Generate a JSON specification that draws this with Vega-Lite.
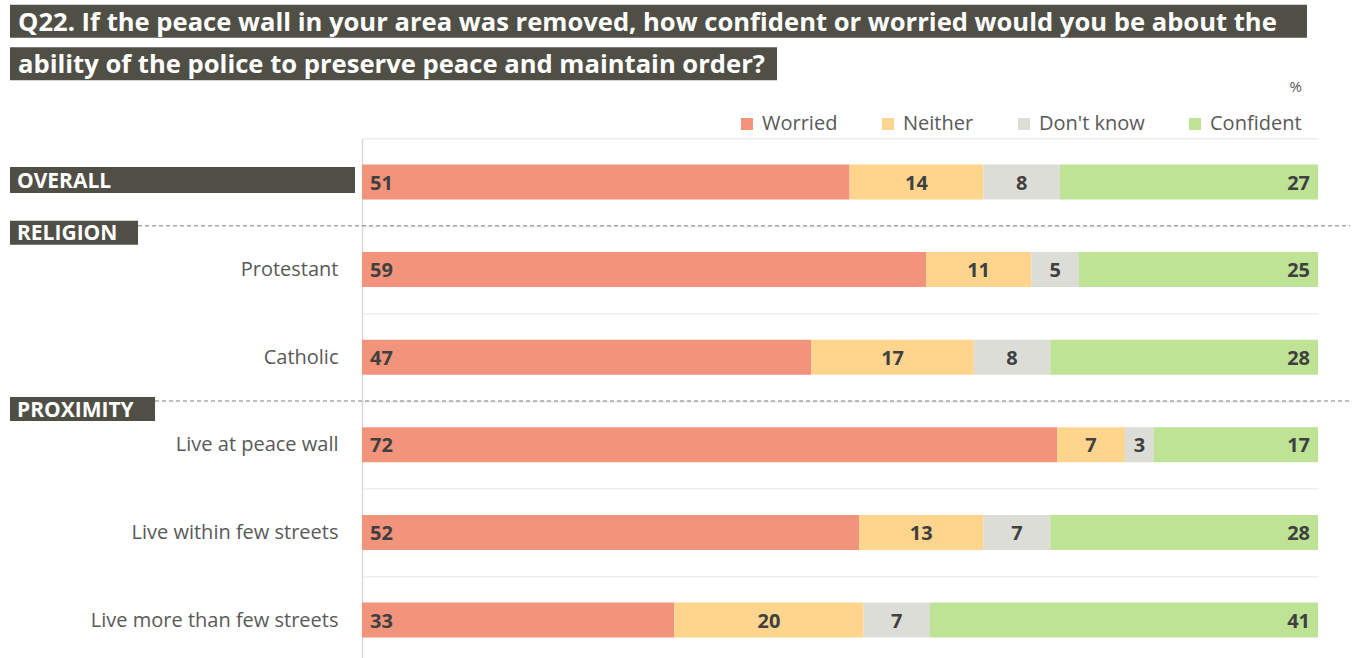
{
  "$schema": "https://vega.github.io/schema/vega-lite/v6.json",
  "background": "white",
  "padding": {"left": 10, "top": 0, "right": 0, "bottom": 0},
  "bounds": "flush",
  "spacing": 53.2,
  "config": {"view": {"stroke": null}, "font": "Open Sans"},
  "resolve": {"scale": {"x": "independent", "y": "independent"}},
  "datasets": {
    "titles": [
      {"line": "1", "text": "Q22. If the peace wall in your area was removed, how confident or worried would you be about the"},
      {"line": "2", "text": "ability of the police to preserve peace and maintain order?"}
    ],
    "headers": [
      {"group": "Overall", "header": "OVERALL"},
      {"group": "Protestant", "header": "RELIGION"},
      {"group": "Live at peace wall", "header": "PROXIMITY"}
    ],
    "survey": [
      {"group": "Overall", "cat": "Worried", "value": 51},
      {"group": "Overall", "cat": "Neither", "value": 14},
      {"group": "Overall", "cat": "Don't know", "value": 8},
      {"group": "Overall", "cat": "Confident", "value": 27},
      {"group": "Protestant", "cat": "Worried", "value": 59},
      {"group": "Protestant", "cat": "Neither", "value": 11},
      {"group": "Protestant", "cat": "Don't know", "value": 5},
      {"group": "Protestant", "cat": "Confident", "value": 25},
      {"group": "Catholic", "cat": "Worried", "value": 47},
      {"group": "Catholic", "cat": "Neither", "value": 17},
      {"group": "Catholic", "cat": "Don't know", "value": 8},
      {"group": "Catholic", "cat": "Confident", "value": 28},
      {"group": "Live at peace wall", "cat": "Worried", "value": 72},
      {"group": "Live at peace wall", "cat": "Neither", "value": 7},
      {"group": "Live at peace wall", "cat": "Don't know", "value": 3},
      {"group": "Live at peace wall", "cat": "Confident", "value": 17},
      {"group": "Live within few streets", "cat": "Worried", "value": 52},
      {"group": "Live within few streets", "cat": "Neither", "value": 13},
      {"group": "Live within few streets", "cat": "Don't know", "value": 7},
      {"group": "Live within few streets", "cat": "Confident", "value": 28},
      {"group": "Live more than few streets", "cat": "Worried", "value": 33},
      {"group": "Live more than few streets", "cat": "Neither", "value": 20},
      {"group": "Live more than few streets", "cat": "Don't know", "value": 7},
      {"group": "Live more than few streets", "cat": "Confident", "value": 41}
    ]
  },
  "vconcat": [
    {
      "width": 956,
      "height": 85,
      "data": {"name": "titles"},
      "encoding": {
        "y": {"field": "line", "type": "nominal", "scale": {"domain": ["1", "2"], "paddingInner": 0.22, "paddingOuter": 0.11}, "axis": null}
      },
      "layer": [
        {
          "transform": [{"filter": "datum.line === '1'"}],
          "mark": {"type": "bar", "color": "#504F46"},
          "encoding": {
            "x": {"datum": -0.3682, "type": "quantitative", "scale": {"domain": [0, 1]}, "axis": null},
            "x2": {"datum": 0.9885}
          }
        },
        {
          "transform": [{"filter": "datum.line === '2'"}],
          "mark": {"type": "bar", "color": "#504F46"},
          "encoding": {
            "x": {"datum": -0.3682, "type": "quantitative", "scale": {"domain": [0, 1]}, "axis": null},
            "x2": {"datum": 0.4341}
          }
        },
        {
          "mark": {"type": "text", "align": "left", "baseline": "middle", "dy": 1.5, "color": "white", "fontSize": 25.6, "fontWeight": "bold"},
          "encoding": {
            "x": {"datum": -0.3598, "type": "quantitative", "scale": {"domain": [0, 1]}, "axis": null},
            "text": {"field": "text"}
          }
        }
      ]
    },
    {
      "width": 956,
      "height": 525.6,
      "encoding": {
        "y": {
          "field": "group",
          "type": "nominal",
          "scale": {"domain": ["Overall", "Protestant", "Catholic", "Live at peace wall", "Live within few streets", "Live more than few streets"], "paddingInner": 0, "paddingOuter": 0},
          "axis": {
            "title": null,
            "labelExpr": "datum.value === 'Overall' ? '' : datum.value",
            "labelFontSize": 20,
            "labelColor": "#595959",
            "labelPadding": 24,
            "labelLimit": 400,
            "ticks": false,
            "domainColor": "#d9d9d9",
            "domainWidth": 1.5,
            "grid": true,
            "gridColor": "#eeeeee",
            "gridWidth": 1.5,
            "tickBand": "extent"
          }
        }
      },
      "layer": [
        {
          "data": {"name": "survey"},
          "transform": [{"stack": "value", "groupby": ["group"], "sort": [{"field": "cat", "order": "descending"}], "offset": "normalize", "as": ["v0", "v1"]}],
          "mark": {"type": "bar", "height": {"band": 0.4}},
          "encoding": {
            "x": {"field": "v0", "type": "quantitative", "scale": {"domain": [0, 1]}, "axis": null},
            "x2": {"field": "v1"},
            "color": {
              "field": "cat",
              "type": "nominal",
              "scale": {"domain": ["Worried", "Neither", "Don't know", "Confident"], "range": ["#F2937B", "#FFD58E", "#DDDDD8", "#BEE395"]},
              "legend": {
                "title": "%",
                "orient": "none",
                "legendX": 375,
                "legendY": 80,
                "direction": "horizontal",
                "titleAnchor": "end",
                "titleFontSize": 15,
                "titleFontWeight": "normal",
                "titleColor": "#595959",
                "titlePadding": 19,
                "symbolType": "square",
                "symbolSize": 144,
                "symbolStrokeWidth": 0,
                "labelFontSize": 20,
                "labelColor": "#595959",
                "labelOffset": 5,
                "columnPadding": 40,
                "labelLimit": 200
              }
            }
          }
        },
        {
          "data": {"name": "survey"},
          "transform": [{"filter": "datum.cat === 'Worried'"}],
          "mark": {"type": "text", "align": "left", "baseline": "middle", "dx": 8, "dy": 1.5, "fontSize": 20, "fontWeight": "bold", "color": "#404040"},
          "encoding": {
            "x": {"datum": 0, "type": "quantitative", "scale": {"domain": [0, 1]}, "axis": null},
            "text": {"field": "value"}
          }
        },
        {
          "data": {"name": "survey"},
          "mark": {"type": "text", "align": "center", "baseline": "middle", "dy": 1.5, "fontSize": 20, "fontWeight": "bold", "color": "#404040"},
          "encoding": {
            "x": {"field": "value", "type": "quantitative", "stack": "normalize", "bandPosition": 0.5, "scale": {"domain": [0, 1]}, "axis": null},
            "detail": {"field": "cat"},
            "order": {"field": "cat", "sort": "descending"},
            "text": {"condition": {"test": "datum.cat === 'Worried' || datum.cat === 'Confident'", "value": ""}, "field": "value"}
          }
        },
        {
          "data": {"name": "survey"},
          "transform": [{"filter": "datum.cat === 'Confident'"}],
          "mark": {"type": "text", "align": "right", "baseline": "middle", "dx": -8, "dy": 1.5, "fontSize": 20, "fontWeight": "bold", "color": "#404040"},
          "encoding": {
            "x": {"datum": 1, "type": "quantitative", "scale": {"domain": [0, 1]}, "axis": null},
            "text": {"field": "value"}
          }
        },
        {
          "data": {"name": "headers"},
          "transform": [{"filter": "datum.header === 'RELIGION'"}],
          "mark": {"type": "rule", "strokeDash": [4, 3], "color": "#7f7f7f", "strokeWidth": 1, "yOffset": -43.8},
          "encoding": {
            "x": {"datum": -0.2343, "type": "quantitative", "scale": {"domain": [0, 1]}, "axis": null},
            "x2": {"datum": 1.0335}
          }
        },
        {
          "data": {"name": "headers"},
          "transform": [{"filter": "datum.header === 'PROXIMITY'"}],
          "mark": {"type": "rule", "strokeDash": [4, 3], "color": "#7f7f7f", "strokeWidth": 1, "yOffset": -43.8},
          "encoding": {
            "x": {"datum": -0.2165, "type": "quantitative", "scale": {"domain": [0, 1]}, "axis": null},
            "x2": {"datum": 1.0335}
          }
        },
        {
          "data": {"name": "headers"},
          "transform": [{"filter": "datum.header === 'OVERALL'"}],
          "mark": {"type": "bar", "color": "#504F46", "height": 26, "yOffset": -2},
          "encoding": {
            "x": {"datum": -0.3682, "type": "quantitative", "scale": {"domain": [0, 1]}, "axis": null},
            "x2": {"datum": -0.0073}
          }
        },
        {
          "data": {"name": "headers"},
          "transform": [{"filter": "datum.header === 'RELIGION'"}],
          "mark": {"type": "bar", "color": "#504F46", "height": 24, "yOffset": -36.8},
          "encoding": {
            "x": {"datum": -0.3682, "type": "quantitative", "scale": {"domain": [0, 1]}, "axis": null},
            "x2": {"datum": -0.2343}
          }
        },
        {
          "data": {"name": "headers"},
          "transform": [{"filter": "datum.header === 'PROXIMITY'"}],
          "mark": {"type": "bar", "color": "#504F46", "height": 24, "yOffset": -35.7},
          "encoding": {
            "x": {"datum": -0.3682, "type": "quantitative", "scale": {"domain": [0, 1]}, "axis": null},
            "x2": {"datum": -0.2165}
          }
        },
        {
          "data": {"name": "headers"},
          "transform": [{"filter": "datum.header === 'OVERALL'"}],
          "mark": {"type": "text", "align": "left", "baseline": "middle", "dy": 1.5, "color": "white", "fontSize": 21, "fontWeight": "bold", "yOffset": -2},
          "encoding": {
            "x": {"datum": -0.3609, "type": "quantitative", "scale": {"domain": [0, 1]}, "axis": null},
            "text": {"field": "header"}
          }
        },
        {
          "data": {"name": "headers"},
          "transform": [{"filter": "datum.header === 'RELIGION'"}],
          "mark": {"type": "text", "align": "left", "baseline": "middle", "dy": 1.5, "color": "white", "fontSize": 21, "fontWeight": "bold", "yOffset": -36.8},
          "encoding": {
            "x": {"datum": -0.3609, "type": "quantitative", "scale": {"domain": [0, 1]}, "axis": null},
            "text": {"field": "header"}
          }
        },
        {
          "data": {"name": "headers"},
          "transform": [{"filter": "datum.header === 'PROXIMITY'"}],
          "mark": {"type": "text", "align": "left", "baseline": "middle", "dy": 1.5, "color": "white", "fontSize": 21, "fontWeight": "bold", "yOffset": -35.7},
          "encoding": {
            "x": {"datum": -0.3609, "type": "quantitative", "scale": {"domain": [0, 1]}, "axis": null},
            "text": {"field": "header"}
          }
        }
      ]
    }
  ]
}
